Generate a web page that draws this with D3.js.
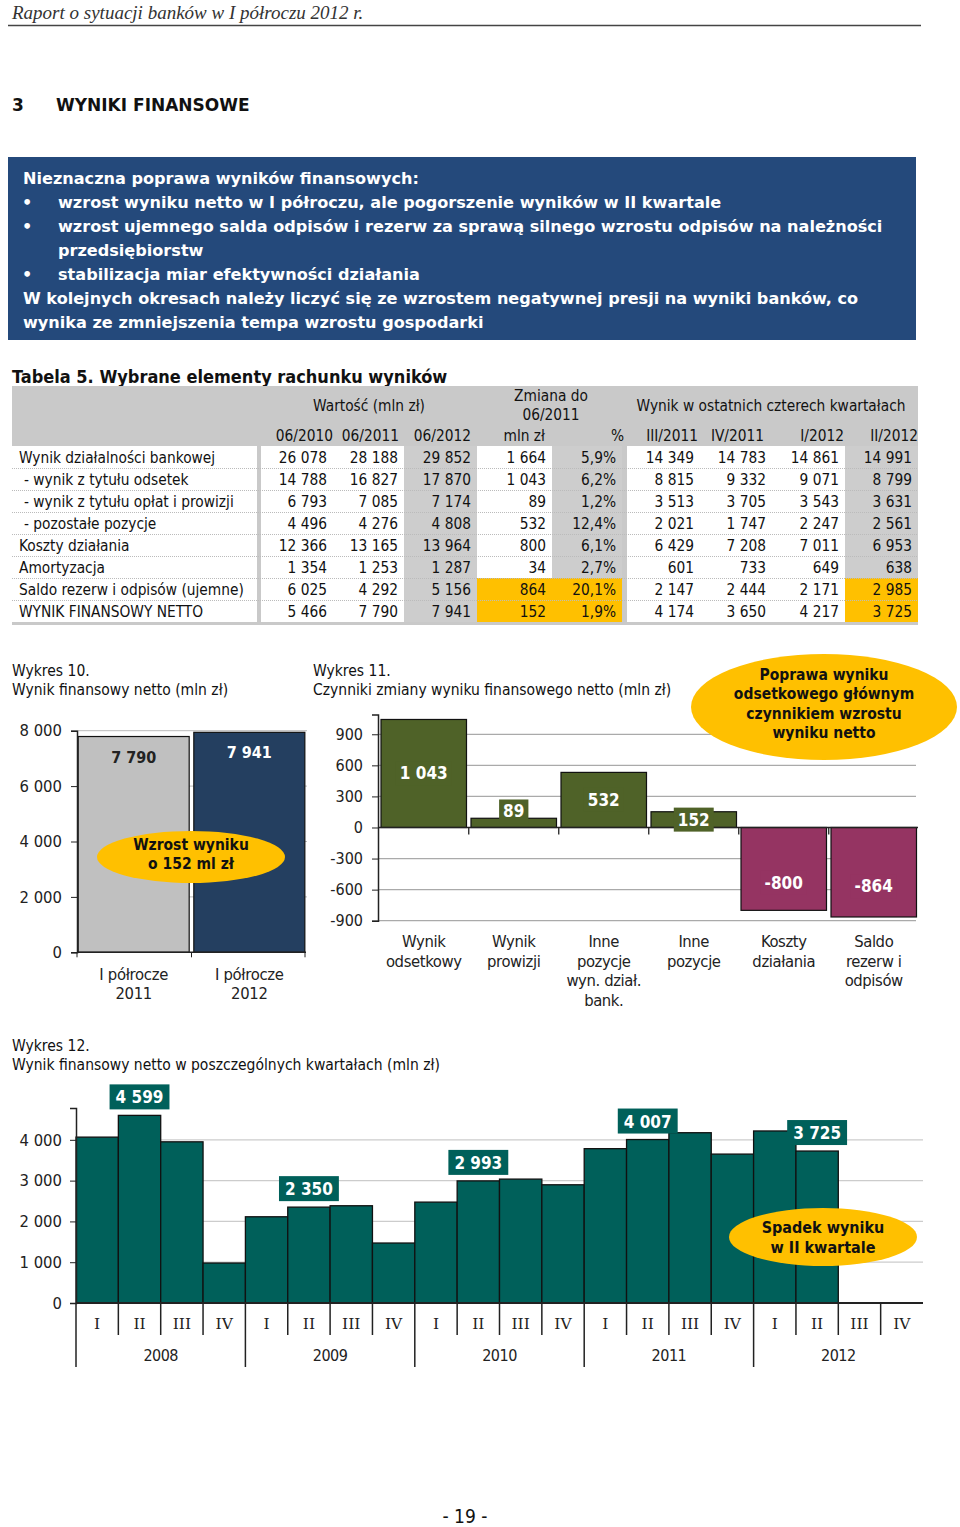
<!DOCTYPE html>
<html><head><meta charset="utf-8">
<script src="https://cdn.jsdelivr.net/npm/d3@7"></script>
<style>body{margin:0;background:#fff}svg{display:block}</style>
</head><body><svg id="c" width="960" height="1527"></svg>
<script>
// ---------- DATA ----------
const boxLines = [
  {t:"Nieznaczna poprawa wyników finansowych:", b:false, ind:false},
  {t:"wzrost wyniku netto w I półroczu, ale pogorszenie wyników w II kwartale", b:true, ind:true},
  {t:"wzrost ujemnego salda odpisów i rezerw za sprawą silnego wzrostu odpisów na należności", b:true, ind:true},
  {t:"przedsiębiorstw", b:false, ind:true},
  {t:"stabilizacja miar efektywności działania", b:true, ind:true},
  {t:"W kolejnych okresach należy liczyć się ze wzrostem negatywnej presji na wyniki banków, co", b:false, ind:false},
  {t:"wynika ze zmniejszenia tempa wzrostu gospodarki", b:false, ind:false}
];
const tableRowLabels = ["Wynik działalności bankowej","- wynik z tytułu odsetek","- wynik z tytułu opłat i prowizji","- pozostałe pozycje","Koszty działania","Amortyzacja","Saldo rezerw i odpisów (ujemne)","WYNIK FINANSOWY NETTO"];
const tableSubRows = [false,true,true,true,false,false,false,false];
const colHeaders = ["06/2010","06/2011","06/2012","mln zł","%","III/2011","IV/2011","I/2012","II/2012"];
const val2010 = [26078,14788,6793,4496,12366,1354,6025,5466];
const val2011 = [28188,16827,7085,4276,13165,1253,4292,7790];
const val2012 = [29852,17870,7174,4808,13964,1287,5156,7941];
const chgMln  = [1664,1043,89,532,800,34,864,152];
const chgPct  = [5.9,6.2,1.2,12.4,6.1,2.7,20.1,1.9];
const q3_2011 = [14349,8815,3513,2021,6429,601,2147,4174];
const q4_2011 = [14783,9332,3705,1747,7208,733,2444,3650];
const q1_2012 = [14861,9071,3543,2247,7011,649,2171,4217];
const q2_2012 = [14991,8799,3631,2561,6953,638,2985,3725];

const halfLabels = [["I półrocze","2011"],["I półrocze","2012"]];
const halfValues = [7790,7941];
const halfTicks = [0,2000,4000,6000,8000];

const factorLabels = [["Wynik","odsetkowy"],["Wynik","prowizji"],["Inne","pozycje","wyn. dział.","bank."],["Inne","pozycje"],["Koszty","działania"],["Saldo","rezerw i","odpisów"]];
const factorValues = [1043,89,532,152,-800,-864];
const factorTicks = [-900,-600,-300,0,300,600,900];

const years = ["2008","2009","2010","2011","2012"];
const quarterNames = ["I","II","III","IV"];
const quarterlyValues = [4066,4599,3951,980, 2114,2350,2384,1470, 2473,2993,3037,2898, 3783,4007,4174,3650, 4217,3725,null,null];
const labeledQuarters = [1,5,9,13,17];
const quarterTicks = [0,1000,2000,3000,4000];

// ---------- SETUP ----------
const svg = d3.select("#c");
const F = "'DejaVu Sans Condensed','DejaVu Sans',sans-serif";
const FB = "'DejaVu Sans',sans-serif";
const loc = d3.formatLocale({decimal:",", thousands:"\u00a0", grouping:[3], currency:["",""], minus:"-"});
const fmt = loc.format(",d");
const fmtPct = v => loc.format(".1f")(v) + "%";
const yellow = "#ffc000";

svg.append("rect").attr("width",960).attr("height",1527).attr("fill","#fff");

// header
svg.append("text").attr("x",12).attr("y",19).attr("font-family","'Liberation Serif',serif").attr("font-style","italic")
  .attr("font-size",19).attr("fill","#333").text("Raport o sytuacji banków w I półroczu 2012 r.");
svg.append("line").attr("x1",8).attr("x2",921).attr("y1",25.5).attr("y2",25.5).attr("stroke","#444").attr("stroke-width",1.5);
svg.append("text").attr("x",12).attr("y",111).attr("font-family",FB).attr("font-weight","bold").attr("font-size",17).attr("fill","#111").text("3");
svg.append("text").attr("x",56).attr("y",111).attr("font-family",FB).attr("font-weight","bold").attr("font-size",17).attr("fill","#111").text("WYNIKI FINANSOWE");

// blue box
svg.append("rect").attr("x",8).attr("y",157).attr("width",908).attr("height",183).attr("fill","#24497b");
const bl = svg.append("g").attr("font-family",FB).attr("font-weight","bold").attr("font-size",16.1).attr("fill","#fff");
boxLines.forEach((d,i)=>{
  const y = 184 + i*24;
  if (d.b) bl.append("text").attr("x",22).attr("y",y).text("•");
  bl.append("text").attr("x", d.ind ? 58 : 23).attr("y", y).text(d.t);
});

// ---------- TABLE ----------
svg.append("text").attr("x",12).attr("y",383).attr("font-family",F).attr("font-weight","bold").attr("font-size",18).attr("fill","#111")
  .text("Tabela 5. Wybrane elementy rachunku wyników");
const tg = svg.append("g").attr("font-family",F).attr("font-size",15.3).attr("fill","#111");
const cols = [[261,333],[333,404],[404,477],[477,552],[552,622],[627,700],[700,772],[772,845],[845,918]];
const colData = [val2010,val2011,val2012,chgMln,chgPct,q3_2011,q4_2011,q1_2012,q2_2012];
const grayCols = [2,4,8];
const yellowCols = [3,4,8], yellowRows = [6,7];
const rowY = d3.scaleBand().domain(d3.range(tableRowLabels.length)).range([446,622]);
tg.append("rect").attr("x",12).attr("y",386).attr("width",906).attr("height",60).attr("fill","#c9c9c9");
tableRowLabels.forEach((lab,r)=>{
  tg.append("rect").attr("x",12).attr("y",rowY(r)).attr("width",245).attr("height",rowY.bandwidth()).attr("fill","#fff");
  cols.forEach((c,ci)=>{
    let fill = "#fff";
    if (grayCols.includes(ci)) fill = "#cdcdcd";
    if (yellowCols.includes(ci) && yellowRows.includes(r)) fill = yellow;
    tg.append("rect").attr("x",c[0]).attr("y",rowY(r)).attr("width",c[1]-c[0]).attr("height",rowY.bandwidth()).attr("fill",fill);
  });
});
tg.append("rect").attr("x",257).attr("y",446).attr("width",4).attr("height",176).attr("fill","#c9c9c9");
tg.append("rect").attr("x",622).attr("y",446).attr("width",5).attr("height",176).attr("fill","#c9c9c9");
tg.append("rect").attr("x",12).attr("y",622).attr("width",906).attr("height",3).attr("fill","#c9c9c9");
d3.range(1,tableRowLabels.length).forEach(r=>{
  tg.append("line").attr("x1",12).attr("x2",918).attr("y1",rowY(r)+0.5).attr("y2",rowY(r)+0.5)
    .attr("stroke","#bbb").attr("stroke-dasharray","1,1");
});
tg.append("text").attr("x",369).attr("y",411).attr("text-anchor","middle").text("Wartość (mln zł)");
tg.append("text").attr("x",551).attr("y",401).attr("text-anchor","middle").text("Zmiana do");
tg.append("text").attr("x",551).attr("y",420).attr("text-anchor","middle").text("06/2011");
tg.append("text").attr("x",771).attr("y",411).attr("text-anchor","middle").text("Wynik w ostatnich czterech kwartałach");
const hdrRight = [333,399,471,545,624,698,764,844,918];
colHeaders.forEach((h,ci)=>{
  tg.append("text").attr("x",hdrRight[ci]).attr("y",441).attr("text-anchor","end").text(h);
});
tableRowLabels.forEach((lab,r)=>{
  const yb = rowY(r) + rowY.bandwidth()/2 + 5.5;
  tg.append("text").attr("x", tableSubRows[r] ? 24 : 19).attr("y",yb).text(lab);
  colData.forEach((arr,ci)=>{
    tg.append("text").attr("x",cols[ci][1]-6).attr("y",yb).attr("text-anchor","end")
      .text(ci===4 ? fmtPct(arr[r]) : fmt(arr[r]));
  });
});

// ---------- CHART TITLES ----------
const titles = [[12,676,"Wykres 10."],[12,695,"Wynik finansowy netto (mln zł)"],
  [313,676,"Wykres 11."],[313,695,"Czynniki zmiany wyniku finansowego netto (mln zł)"],
  [12,1051,"Wykres 12."],[12,1070,"Wynik finansowy netto w poszczególnych kwartałach (mln zł)"]];
titles.forEach(t=>svg.append("text").attr("x",t[0]).attr("y",t[1]).attr("font-family",F).attr("font-size",15.5).attr("fill","#111").text(t[2]));

function ellipse(cx,cy,rx,ry,lines,y0,dy,fs){
  svg.append("ellipse").attr("cx",cx).attr("cy",cy).attr("rx",rx).attr("ry",ry).attr("fill",yellow);
  lines.forEach((l,i)=>svg.append("text").attr("x",cx).attr("y",y0+i*dy).attr("text-anchor","middle")
    .attr("font-family",F).attr("font-weight","bold").attr("font-size",fs).attr("fill","#111").text(l));
}

// ---------- CHART 10 ----------
{
  const g = svg.append("g").attr("font-family",F).attr("fill","#222");
  const x = d3.scaleBand().domain(d3.range(halfValues.length)).range([77,306]).paddingInner(0.04).paddingOuter(0.01);
  const y = d3.scaleLinear().domain([0,8000]).range([952.3,730.7]);
  halfTicks.filter(t=>t>0).forEach(t=>g.append("line").attr("x1",77).attr("x2",307).attr("y1",y(t)).attr("y2",y(t)).attr("stroke","#bbb"));
  const colors = ["#c0c0c0","#243f60"];
  g.selectAll("rect.bar").data(halfValues).join("rect").attr("class","bar")
    .attr("x",(d,i)=>x(i)).attr("width",x.bandwidth()).attr("y",d=>y(d)).attr("height",d=>y(0)-y(d))
    .attr("fill",(d,i)=>colors[i]).attr("stroke","#111").attr("stroke-width",1.2);
  g.selectAll("text.val").data(halfValues).join("text").attr("class","val")
    .attr("x",(d,i)=>x(i)+x.bandwidth()/2).attr("y",d=>y(d)+26).attr("text-anchor","middle")
    .attr("font-weight","bold").attr("font-size",16).attr("fill",(d,i)=>i===0?"#222":"#fff").text(d=>fmt(d));
  const ax = g.append("g").attr("transform","translate(77,0)").call(d3.axisLeft(y).tickValues(halfTicks).tickSize(6).tickFormat(fmt));
  ax.select(".domain").attr("stroke","#222").attr("stroke-width",1.5);
  ax.selectAll(".tick line").attr("stroke","#222");
  ax.selectAll(".tick text").attr("font-family",F).attr("font-size",16.5).attr("fill","#222").attr("x",-15);
  g.append("line").attr("x1",77).attr("x2",306).attr("y1",y(0)).attr("y2",y(0)).attr("stroke","#222").attr("stroke-width",1.5);
  [77, x(1)-x.step()*x.paddingInner()/2, 305].forEach(v=>g.append("line").attr("x1",v).attr("x2",v).attr("y1",y(0)).attr("y2",y(0)+5).attr("stroke","#222"));
  halfLabels.forEach((ls,i)=>ls.forEach((l,j)=>g.append("text").attr("x",x(i)+x.bandwidth()/2).attr("y",980+j*19)
    .attr("text-anchor","middle").attr("font-size",16.5).attr("letter-spacing",-0.3).text(l)));
}
ellipse(191,857,94,26,["Wzrost wyniku","o 152 ml zł"],850,19,15.5);

// ---------- CHART 11 ----------
{
  const g = svg.append("g").attr("font-family",F).attr("fill","#222");
  const x = d3.scaleBand().domain(d3.range(factorValues.length)).range([378.75,918.75]).paddingInner(0.05).paddingOuter(0.025);
  const y = d3.scaleLinear().domain([-900,1090]).range([920.7,714.6]);
  factorTicks.filter(t=>t!==0).forEach(t=>g.append("line").attr("x1",378).attr("x2",916).attr("y1",y(t)).attr("y2",y(t)).attr("stroke","#aaa").attr("stroke-width",1.3));
  const col = d=> d>=0 ? "#4f6228" : "#953462";
  g.selectAll("rect.bar").data(factorValues).join("rect").attr("class","bar")
    .attr("x",(d,i)=>x(i)).attr("width",x.bandwidth()).attr("y",d=>y(Math.max(0,d))).attr("height",d=>Math.abs(y(d)-y(0)))
    .attr("fill",col).attr("stroke","#111").attr("stroke-width",1.2);
  const ax = g.append("g").attr("transform","translate(378,0)").call(d3.axisLeft(y).tickValues(factorTicks).tickSize(6).tickFormat(d=>fmt(d)));
  ax.select(".domain").attr("stroke","#222").attr("stroke-width",1.5);
  ax.selectAll(".tick line").attr("stroke","#222");
  ax.selectAll(".tick text").attr("font-family",F).attr("font-size",16).attr("fill","#222").attr("x",-15);
  g.append("line").attr("x1",378).attr("x2",918).attr("y1",y(0)).attr("y2",y(0)).attr("stroke","#222").attr("stroke-width",1.5);
  d3.range(1,factorValues.length).forEach(i=>{
    const bx = x(i) - x.step()*x.paddingInner()/2;
    g.append("line").attr("x1",bx).attr("x2",bx).attr("y1",y(0)).attr("y2",y(0)+7).attr("stroke","#222").attr("stroke-width",1.3);
  });
  factorValues.forEach((d,i)=>{
    const h = Math.abs(y(d)-y(0));
    let cy = (y(d)+y(0))/2;
    if (d<0) cy += 14;
    if (h<12) cy = y(0)-16;
    const cx = x(i)+x.bandwidth()/2;
    const t = g.append("text").attr("x",cx).attr("y",cy+6).attr("text-anchor","middle").attr("font-weight","bold")
      .attr("font-size",17).attr("fill","#fff").text(fmt(d));
    const w = t.node().getComputedTextLength()+8;
    g.insert("rect", () => t.node()).attr("x",cx-w/2).attr("y",cy-12).attr("width",w).attr("height",24).attr("fill",col(d));
  });
  factorLabels.forEach((ls,i)=>ls.forEach((l,j)=>g.append("text").attr("x",x(i)+x.bandwidth()/2).attr("y",947+j*19.5)
    .attr("text-anchor","middle").attr("font-size",16.5).attr("letter-spacing",-0.4).text(l)));
}
ellipse(824,707,133,53,["Poprawa wyniku","odsetkowego głównym","czynnikiem wzrostu","wyniku netto"],680,19.3,15.5);

// ---------- CHART 12 ----------
{
  const g = svg.append("g").attr("font-family",F).attr("fill","#222");
  const x = d3.scaleBand().domain(d3.range(quarterlyValues.length)).range([76,923]).padding(0);
  const y = d3.scaleLinear().domain([0,4780]).range([1303,1108]);
  quarterTicks.filter(t=>t>0).forEach(t=>g.append("line").attr("x1",76).attr("x2",923).attr("y1",y(t)).attr("y2",y(t)).attr("stroke","#ccc").attr("stroke-width",1.3));
  const teal = "#00605a";
  const vals = quarterlyValues.map((v,i)=>({v,i})).filter(d=>d.v!==null);
  g.selectAll("rect.bar").data(vals).join("rect").attr("class","bar")
    .attr("x",d=>x(d.i)).attr("width",x.bandwidth()).attr("y",d=>y(d.v)).attr("height",d=>y(0)-y(d.v))
    .attr("fill",teal).attr("stroke","#111").attr("stroke-width",1.3);
  const ax = g.append("g").attr("transform","translate(76,0)").call(d3.axisLeft(y).tickValues(quarterTicks).tickSize(6).tickFormat(fmt));
  ax.select(".domain").attr("stroke","#222").attr("stroke-width",1.5);
  ax.selectAll(".tick line").attr("stroke","#222");
  ax.selectAll(".tick text").attr("font-family",F).attr("font-size",16.5).attr("fill","#222").attr("x",-14);
  g.append("line").attr("x1",76).attr("x2",923).attr("y1",y(0)).attr("y2",y(0)).attr("stroke","#222").attr("stroke-width",1.8);
  d3.range(0,quarterlyValues.length).forEach(i=>{
    const isYear = i % quarterNames.length === 0;
    g.append("line").attr("x1",x(i)).attr("x2",x(i)).attr("y1",y(0)).attr("y2",isYear ? 1367 : 1335).attr("stroke","#222").attr("stroke-width",1.5);
    g.append("text").attr("x",x(i)+x.bandwidth()/2).attr("y",1329).attr("text-anchor","middle")
      .attr("font-family","'DejaVu Serif',serif").attr("font-size",15.5).text(quarterNames[i % quarterNames.length]);
  });
  years.forEach((yr,k)=>{
    const cx = (x(k*4) + x(k*4+3) + x.bandwidth())/2;
    g.append("text").attr("x",cx).attr("y",1361).attr("text-anchor","middle").attr("font-size",16).attr("letter-spacing",-0.5).text(yr);
  });
  labeledQuarters.forEach(i=>{
    const v = quarterlyValues[i];
    const cx = x(i)+x.bandwidth()/2;
    const t = g.append("text").attr("x",cx).attr("y",y(v)-12).attr("text-anchor","middle").attr("font-weight","bold")
      .attr("font-size",17).attr("fill","#fff").text(fmt(v));
    const w = t.node().getComputedTextLength()+12;
    g.insert("rect", () => t.node()).attr("x",cx-w/2).attr("y",y(v)-31).attr("width",w).attr("height",25).attr("fill",teal);
  });
}
ellipse(823,1237,94,29,["Spadek wyniku","w II kwartale"],1233,20,16);

// footer
svg.append("text").attr("x",465).attr("y",1523).attr("text-anchor","middle").attr("font-family",F).attr("font-size",19).attr("fill","#111").text("- 19 -");
</script></body></html>
